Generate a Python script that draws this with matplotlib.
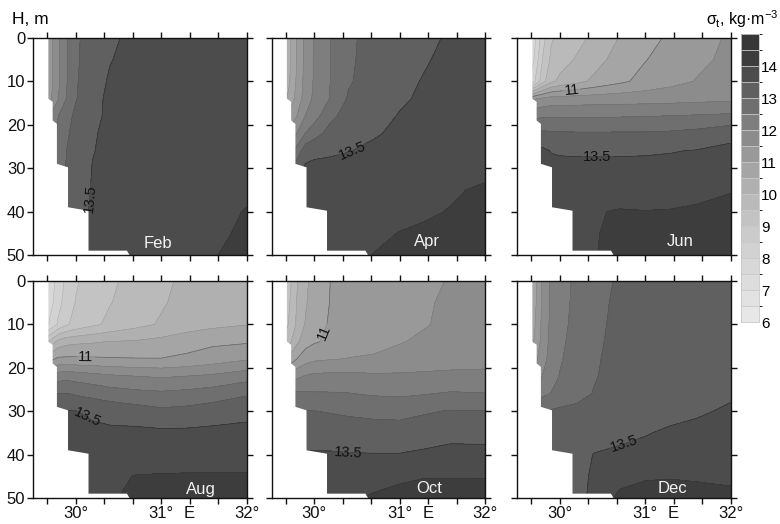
import numpy as np
import matplotlib
matplotlib.use('Agg')
import matplotlib.pyplot as plt
from matplotlib.colors import ListedColormap, BoundaryNorm

plt.rcParams['font.family'] = ['Liberation Sans', 'DejaVu Sans']
plt.rcParams['mathtext.fontset'] = 'custom'
plt.rcParams['mathtext.rm'] = 'Liberation Sans'
plt.rcParams['mathtext.it'] = 'Liberation Sans'

# ---------------- data ----------------
lon = [29.6, 29.7, 29.8, 29.9, 30.0, 30.2, 30.4, 30.7, 31.0, 31.3, 31.6, 32.0]
depth = [0, 5, 10, 14, 18, 22, 26, 30, 35, 40, 45, 50]

feb = [
    [10.8, 11.3, 11.95, 12.5, 12.93, 13.2, 13.42, 13.62, 13.7, 13.75, 13.8, 13.85],
    [10.8, 11.3, 11.95, 12.5, 12.93, 13.25, 13.48, 13.65, 13.72, 13.76, 13.8, 13.85],
    [10.8, 11.3, 11.95, 12.5, 12.95, 13.3, 13.55, 13.67, 13.72, 13.76, 13.8, 13.85],
    [10.9, 11.4, 12.0, 12.55, 12.97, 13.35, 13.6, 13.68, 13.72, 13.76, 13.8, 13.85],
    [11.5, 12.0, 12.52, 12.85, 13.1, 13.38, 13.6, 13.68, 13.72, 13.76, 13.8, 13.85],
    [11.8, 12.2, 12.6, 12.95, 13.15, 13.45, 13.62, 13.68, 13.72, 13.76, 13.8, 13.85],
    [12.0, 12.3, 12.7, 13.02, 13.2, 13.48, 13.63, 13.68, 13.72, 13.76, 13.8, 13.85],
    [12.2, 12.52, 12.8, 13.05, 13.25, 13.52, 13.64, 13.68, 13.72, 13.76, 13.8, 13.85],
    [12.4, 12.6, 12.9, 13.1, 13.3, 13.53, 13.65, 13.68, 13.72, 13.76, 13.82, 13.92],
    [12.52, 12.7, 13.02, 13.2, 13.35, 13.55, 13.66, 13.7, 13.74, 13.8, 13.88, 14.02],
    [12.6, 12.8, 13.1, 13.3, 13.4, 13.58, 13.67, 13.72, 13.76, 13.84, 13.9, 14.08],
    [12.7, 12.9, 13.15, 13.35, 13.45, 13.6, 13.68, 13.74, 13.8, 13.88, 13.97, 14.15],
]
apr = [
    [9.8, 10.35, 11.05, 11.65, 12.02, 12.52, 12.92, 13.15, 13.27, 13.4, 13.56, 13.65],
    [9.8, 10.35, 11.05, 11.65, 12.02, 12.52, 12.93, 13.17, 13.32, 13.47, 13.6, 13.68],
    [9.9, 10.4, 11.1, 11.7, 12.05, 12.53, 12.95, 13.22, 13.4, 13.53, 13.63, 13.7],
    [10.2, 10.6, 11.2, 11.75, 12.1, 12.55, 13.05, 13.3, 13.45, 13.56, 13.65, 13.72],
    [10.6, 11.02, 11.52, 12.02, 12.3, 12.9, 13.2, 13.38, 13.52, 13.6, 13.66, 13.73],
    [11.2, 11.6, 12.02, 12.52, 12.8, 13.2, 13.38, 13.47, 13.56, 13.62, 13.68, 13.74],
    [11.8, 12.3, 12.7, 13.3, 13.4, 13.45, 13.49, 13.56, 13.6, 13.63, 13.69, 13.76],
    [12.6, 13.02, 13.3, 13.58, 13.6, 13.6, 13.6, 13.62, 13.64, 13.66, 13.72, 13.8],
    [12.9, 13.2, 13.45, 13.55, 13.58, 13.6, 13.62, 13.65, 13.7, 13.78, 13.92, 14.1],
    [13.02, 13.3, 13.52, 13.56, 13.6, 13.62, 13.65, 13.7, 13.8, 13.92, 14.03, 14.15],
    [13.1, 13.35, 13.52, 13.58, 13.62, 13.66, 13.72, 13.85, 14.02, 14.1, 14.15, 14.2],
    [13.2, 13.4, 13.55, 13.6, 13.65, 13.72, 13.8, 14.02, 14.12, 14.18, 14.2, 14.22],
]
jun = [
    [7.0, 7.8, 8.8, 9.45, 9.6, 9.85, 10.1, 10.52, 10.8, 11.1, 11.35, 11.55],
    [7.2, 8.02, 9.02, 9.6, 9.8, 10.05, 10.3, 10.7, 10.98, 11.2, 11.4, 11.6],
    [7.6, 8.4, 9.3, 9.9, 10.1, 10.35, 10.6, 10.9, 11.15, 11.35, 11.52, 11.65],
    [11.3, 11.45, 11.6, 11.7, 11.72, 11.74, 11.76, 11.78, 11.8, 11.82, 11.86, 11.9],
    [12.3, 12.4, 12.45, 12.45, 12.45, 12.45, 12.45, 12.47, 12.48, 12.52, 12.55, 12.6],
    [13.02, 13.05, 13.1, 13.08, 13.06, 13.05, 13.05, 13.05, 13.05, 13.08, 13.15, 13.35],
    [13.55, 13.6, 13.6, 13.48, 13.46, 13.45, 13.45, 13.45, 13.46, 13.48, 13.52, 13.62],
    [13.65, 13.68, 13.66, 13.62, 13.6, 13.6, 13.6, 13.6, 13.6, 13.62, 13.66, 13.72],
    [13.75, 13.78, 13.75, 13.72, 13.72, 13.74, 13.76, 13.8, 13.82, 13.85, 13.9, 13.98],
    [13.8, 13.8, 13.8, 13.8, 13.82, 13.85, 13.97, 14.03, 14.01, 14.02, 14.05, 14.1],
    [13.82, 13.82, 13.82, 13.82, 13.84, 13.87, 13.97, 14.1, 14.12, 14.12, 14.15, 14.2],
    [13.84, 13.84, 13.84, 13.84, 13.86, 13.88, 13.98, 14.12, 14.15, 14.15, 14.18, 14.22],
]
aug = [
    [7.0, 7.7, 8.25, 8.65, 8.95, 9.2, 9.42, 9.65, 9.9, 10.1, 10.2, 10.3],
    [7.1, 7.8, 8.35, 8.75, 9.02, 9.25, 9.48, 9.7, 9.95, 10.15, 10.25, 10.35],
    [7.5, 8.1, 8.6, 8.95, 9.15, 9.4, 9.6, 9.85, 10.05, 10.25, 10.38, 10.48],
    [9.0, 9.6, 10.2, 10.35, 10.4, 10.45, 10.52, 10.55, 10.65, 10.8, 10.9, 10.95],
    [10.6, 10.9, 11.1, 11.1, 11.1, 11.08, 11.05, 11.03, 11.02, 11.1, 11.25, 11.45],
    [11.9, 12.1, 12.3, 12.35, 12.3, 12.2, 12.1, 12.02, 11.95, 12.02, 12.1, 12.3],
    [12.8, 12.9, 13.02, 13.02, 12.95, 12.85, 12.75, 12.65, 12.6, 12.65, 12.75, 12.95],
    [13.4, 13.45, 13.52, 13.52, 13.51, 13.42, 13.32, 13.22, 13.1, 13.15, 13.25, 13.35],
    [13.6, 13.62, 13.65, 13.65, 13.63, 13.6, 13.6, 13.62, 13.6, 13.6, 13.62, 13.65],
    [13.72, 13.72, 13.72, 13.72, 13.72, 13.72, 13.72, 13.72, 13.72, 13.74, 13.76, 13.78],
    [13.8, 13.8, 13.8, 13.8, 13.82, 13.84, 13.88, 14.02, 14.04, 14.05, 14.05, 14.05],
    [13.85, 13.85, 13.85, 13.85, 13.88, 13.9, 13.95, 14.1, 14.12, 14.12, 14.12, 14.12],
]
oct_ = [
    [8.8, 9.3, 9.95, 10.4, 10.7, 11.02, 11.12, 11.25, 11.35, 11.44, 11.52, 11.6],
    [8.9, 9.4, 10.05, 10.45, 10.75, 11.03, 11.15, 11.28, 11.38, 11.47, 11.55, 11.62],
    [9.0, 9.52, 10.1, 10.55, 10.85, 11.05, 11.2, 11.32, 11.42, 11.48, 11.58, 11.65],
    [9.4, 9.8, 10.4, 10.8, 10.95, 11.1, 11.25, 11.38, 11.48, 11.56, 11.62, 11.68],
    [10.2, 10.6, 11.02, 11.3, 11.42, 11.48, 11.52, 11.55, 11.62, 11.7, 11.75, 11.8],
    [11.52, 11.7, 11.9, 12.05, 12.12, 12.15, 12.15, 12.1, 12.1, 12.12, 12.15, 12.15],
    [12.6, 12.62, 12.6, 12.57, 12.55, 12.54, 12.52, 12.45, 12.42, 12.48, 12.55, 12.52],
    [13.05, 13.05, 13.02, 13.01, 13.01, 12.97, 12.93, 12.88, 12.86, 12.95, 13.03, 13.01],
    [13.3, 13.3, 13.28, 13.27, 13.26, 13.25, 13.22, 13.2, 13.2, 13.28, 13.35, 13.33],
    [13.6, 13.58, 13.56, 13.55, 13.55, 13.55, 13.53, 13.52, 13.52, 13.58, 13.65, 13.65],
    [13.75, 13.75, 13.75, 13.75, 13.75, 13.78, 13.8, 13.85, 13.92, 13.98, 13.98, 13.98],
    [13.85, 13.85, 13.85, 13.85, 13.88, 13.9, 13.95, 14.05, 14.15, 14.2, 14.22, 14.2],
]
dec = [
    [10.2, 10.75, 11.6, 12.1, 12.3, 12.6, 12.85, 13.05, 13.15, 13.2, 13.25, 13.3],
    [10.3, 10.8, 11.62, 12.1, 12.32, 12.62, 12.88, 13.08, 13.17, 13.22, 13.26, 13.3],
    [10.4, 10.9, 11.65, 12.12, 12.35, 12.65, 12.9, 13.1, 13.18, 13.22, 13.26, 13.3],
    [10.6, 11.02, 11.7, 12.15, 12.4, 12.68, 12.92, 13.12, 13.2, 13.24, 13.28, 13.32],
    [11.02, 11.3, 11.8, 12.2, 12.45, 12.72, 12.95, 13.13, 13.2, 13.25, 13.3, 13.35],
    [11.52, 11.7, 12.02, 12.3, 12.52, 12.76, 12.97, 13.15, 13.22, 13.27, 13.32, 13.38],
    [12.02, 12.2, 12.4, 12.52, 12.65, 12.85, 13.02, 13.17, 13.24, 13.3, 13.36, 13.45],
    [12.6, 12.8, 12.95, 13.05, 13.1, 13.12, 13.15, 13.22, 13.28, 13.4, 13.45, 13.55],
    [12.8, 12.9, 13.05, 13.12, 13.15, 13.18, 13.22, 13.42, 13.48, 13.55, 13.6, 13.7],
    [12.9, 13.02, 13.1, 13.15, 13.2, 13.25, 13.52, 13.56, 13.6, 13.65, 13.7, 13.75],
    [13.02, 13.05, 13.12, 13.18, 13.22, 13.28, 13.6, 13.85, 13.95, 13.97, 13.95, 13.92],
    [13.05, 13.1, 13.15, 13.2, 13.25, 13.3, 13.65, 14.1, 14.2, 14.2, 14.15, 14.1],
]

months = ['Feb', 'Apr', 'Jun', 'Aug', 'Oct', 'Dec']
fields = [feb, apr, jun, aug, oct_, dec]
month_lon = [30.96, 31.32, 31.41, 31.47, 31.35, 31.32]
month_depth = [47.3, 46.8, 47.0, 48.0, 47.9, 47.9]

# bottom / coast outline (land drawn white)
coast_lon = [29.5, 29.68, 29.68, 29.73, 29.73, 29.78, 29.78, 29.91, 29.91, 30.15, 30.15, 30.60, 30.63, 29.5]
coast_depth = [0, 0, 14, 14.7, 19, 19.8, 29, 29.8, 39, 39.8, 49, 49, 50, 50]

# labelled isopycnals: (level, lon, depth)
labels = {
    'Feb': [(13.5, 30.2, 37.0)],
    'Apr': [(13.5, 30.44, 25.6)],
    'Jun': [(11, 30.14, 12.3), (13.5, 30.44, 27.2)],
    'Aug': [(11, 30.12, 17.5), (13.5, 30.16, 30.5)],
    'Oct': [(11, 30.1, 11.8), (13.5, 30.4, 38.7)],
    'Dec': [(13.5, 30.75, 37.4)],
}

xticks = [29 + 2 / 3, 30, 30 + 1 / 3, 30 + 2 / 3, 31, 31 + 1 / 3, 31 + 2 / 3, 32]
xticklabels = ['', '30°', '', '', '31°', 'E', '', '32°']
yticks = [0, 10, 20, 30, 40, 50]

levels = np.arange(6, 15.01, 0.5)
band_gray = [231, 226, 221, 216, 210, 203, 195, 186, 176, 165, 153, 140, 126, 111, 96, 76, 61, 55]
cbar_ticks = [6, 7, 8, 9, 10, 11, 12, 13, 14]

# ---------------- plot ----------------
cmap = ListedColormap([(g / 255, g / 255, g / 255) for g in band_gray])
norm = BoundaryNorm(levels, cmap.N)

fig = plt.figure(figsize=(7.8, 5.24), dpi=100)
W, H = 780, 524
col_left = [33, 271.5, 517]
row_top = [38, 281]
aw, ah = 213.5, 217

for i, (m, Z) in enumerate(zip(months, fields)):
    r, c = divmod(i, 3)
    ax = fig.add_axes([col_left[c] / W, 1 - (row_top[r] + ah) / H, aw / W, ah / H])
    ax.set_xlim(29.5, 32)
    ax.set_ylim(50, 0)
    Z = np.array(Z)
    cf = ax.contourf(lon, depth, Z, levels=levels, cmap=cmap, norm=norm, zorder=1)
    ax.contour(lon, depth, Z, levels=levels, colors=[(0, 0, 0, 0.13)], linewidths=0.4, zorder=1.2)
    ax.fill(coast_lon, coast_depth, color='white', lw=0, zorder=2)
    for lev, lx, ld in labels[m]:
        cs = ax.contour(lon, depth, Z, levels=[lev], colors=[(0, 0, 0, 0.25)], linewidths=0.5, zorder=1.3)
        ax.clabel(cs, manual=[(lx, ld)], fmt=lambda v: f'{v:g}', fontsize=10.5,
                  colors='#111111', inline=True, inline_spacing=2)
    ax.text(month_lon[i], month_depth[i], m, color='#f2f2f2', fontsize=12,
            ha='center', va='center', zorder=4)
    ax.set_xlim(29.5, 32)
    ax.set_ylim(50, 0)
    ax.set_xticks(xticks)
    ax.set_yticks(yticks)
    if r == 1:
        ax.set_xticklabels(xticklabels)
    else:
        ax.set_xticklabels([])
    if c != 0:
        ax.set_yticklabels([])
    ax.tick_params(which='both', direction='out', length=4, width=1, top=True, right=True,
                   labelsize=12, pad=1.5, colors='#111111')
    for sp in ax.spines.values():
        sp.set_linewidth(1.0)
        sp.set_color('#111111')

cax = fig.add_axes([741 / W, 1 - 322 / H, 18 / W, 288 / H])
cb = fig.colorbar(cf, cax=cax, ticks=cbar_ticks, drawedges=True)
cb.outline.set_edgecolor('#c8c8c8')
cb.outline.set_linewidth(0.6)
cb.dividers.set_color('#c8c8c8')
cb.dividers.set_linewidth(0.6)
cax.tick_params(length=0, labelsize=11, pad=1.5)

fig.text(12 / W, 1 - 19 / H, 'H, m', fontsize=12.5, ha='left', va='center')
fig.text(706 / W, 1 - 19 / H, r'$\sigma_t$, kg·m$^{-3}$', fontsize=11.5, ha='left', va='center')

fig.savefig('out.png', dpi=100)
